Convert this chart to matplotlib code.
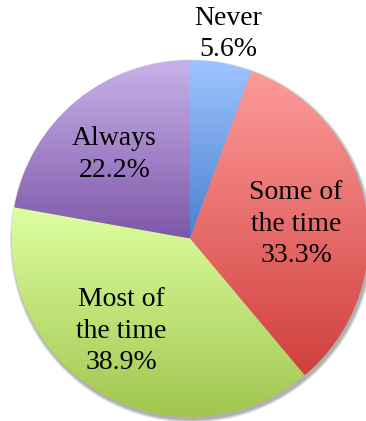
import numpy as np
import matplotlib
matplotlib.use("Agg")
import matplotlib.pyplot as plt
from matplotlib.colors import LinearSegmentedColormap
from matplotlib.patches import Circle

# Survey answers and their shares (%)
categories = ["Never", "Some of\nthe time", "Most of\nthe time", "Always"]
shares = [5.6, 33.3, 38.9, 22.2]

# Gradient colours per slice (top, bottom)
top_colors = ["#9fc5ff", "#fd9c9a", "#ddffa0", "#c9b2eb"]
bottom_colors = ["#4a80cf", "#d13f3d", "#a0c64f", "#7e58a8"]

# Label placement: radial fraction of the radius and angular nudge (deg)
label_radius = [1.165, 0.60, 0.645, 0.635]
label_nudge = [-0.6, -2.2, -6.4, 2.0]

W, H, DPI = 366, 421, 100
fig = plt.figure(figsize=(W / DPI, H / DPI), dpi=DPI)
ax = fig.add_axes([0, 0, 1, 1])
ax.set_xlim(0, W)
ax.set_ylim(0, H)
ax.set_aspect("equal")
ax.axis("off")

cx, cy, R = 190.0, H - 238.5, 178.5

# soft drop shadow beneath the pie
for i in range(8):
    ax.add_patch(Circle((cx + 1.5, cy - 2.5), R + 3.2 - 0.4 * i,
                        facecolor="#000000", edgecolor="none",
                        alpha=0.045, zorder=0))

wedges, _ = ax.pie(shares, startangle=90, counterclock=False,
                   center=(cx, cy), radius=R, frame=True,
                   wedgeprops=dict(linewidth=0))
ax.set_xlim(0, W)
ax.set_ylim(0, H)
ax.axis("off")

grad = np.linspace(1, 0, 256).reshape(-1, 1)
for w, c_top, c_bot in zip(wedges, top_colors, bottom_colors):
    w.set_facecolor("none")
    w.set_zorder(1)
    ext = w.get_path().get_extents()
    cmap = LinearSegmentedColormap.from_list("g", [c_bot, c_top])
    im = ax.imshow(grad, cmap=cmap, aspect="auto", origin="upper",
                   extent=(ext.x0, ext.x1, ext.y0, ext.y1),
                   interpolation="bilinear", zorder=1, vmin=0, vmax=1)
    im.set_clip_path(w)

for w, name, val, rf, nd in zip(wedges, categories, shares,
                                 label_radius, label_nudge):
    mid = np.deg2rad((w.theta1 + w.theta2) / 2 + nd)
    x = cx + rf * R * np.cos(mid)
    y = cy + rf * R * np.sin(mid)
    ax.text(x, y, f"{name}\n{val:.1f}%", ha="center", va="center",
            fontsize=20, family="Liberation Serif", color="black",
            linespacing=1.35, zorder=5)

fig.savefig("out.png", dpi=DPI, facecolor="white")
